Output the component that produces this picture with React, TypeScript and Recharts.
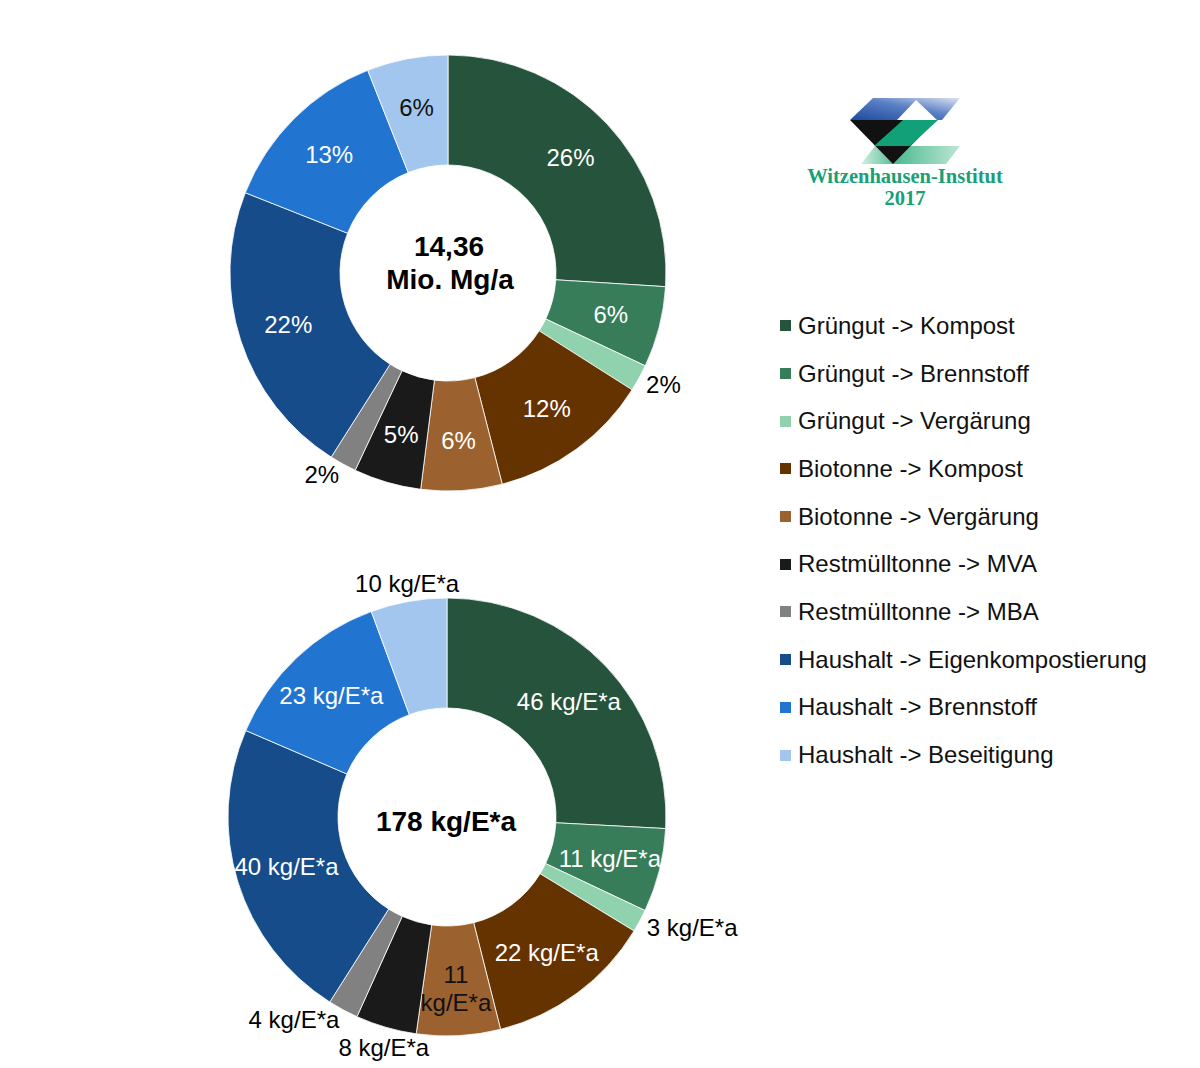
import React from "react";
import { PieChart, Pie, Cell } from "recharts";

const CATEGORIES = [
  "Grüngut -> Kompost",
  "Grüngut -> Brennstoff",
  "Grüngut -> Vergärung",
  "Biotonne -> Kompost",
  "Biotonne -> Vergärung",
  "Restmülltonne -> MVA",
  "Restmülltonne -> MBA",
  "Haushalt -> Eigenkompostierung",
  "Haushalt -> Brennstoff",
  "Haushalt -> Beseitigung",
];

// share of 14,36 Mio. Mg/a in percent
const SHARE_PERCENT = [26, 6, 2, 12, 6, 5, 2, 22, 13, 6];
// per capita, kg per inhabitant and year (sum 178)
const KG_PER_CAPITA = [46, 11, 3, 22, 11, 8, 4, 40, 23, 10];

const COLORS = [
  "#26533c",
  "#377d59",
  "#90d1ae",
  "#653300",
  "#9b6230",
  "#1a1a1a",
  "#818181",
  "#174c8b",
  "#2274d1",
  "#a3c6ee",
];

const TOP_OUTSIDE = ["Grüngut -> Vergärung", "Restmülltonne -> MBA"];
const BOTTOM_OUTSIDE = [
  "Grüngut -> Vergärung",
  "Restmülltonne -> MVA",
  "Restmülltonne -> MBA",
  "Haushalt -> Beseitigung",
];
const TOP_DARK = ["Haushalt -> Beseitigung"];
const BOTTOM_DARK = ["Biotonne -> Vergärung"];
const BOTTOM_WRAPPED = ["Biotonne -> Vergärung"];

const topData = CATEGORIES.map((name, i) => ({ name, value: SHARE_PERCENT[i] }));
const bottomData = CATEGORIES.map((name, i) => ({ name, value: KG_PER_CAPITA[i] }));

const RADIAN = Math.PI / 180;
const FONT = "'Liberation Sans', Arial, sans-serif";
const NO_MARGIN = { top: 0, right: 0, bottom: 0, left: 0 };

function makeLabel(
  outside: string[],
  dark: string[],
  wrapped: string[],
  unit: (v: number) => string,
  unitLines: (v: number) => string[]
) {
  return (props: any) => {
    const { cx, cy, midAngle, outerRadius, name, value } = props;
    const dx = Math.cos(-midAngle * RADIAN);
    const dy = Math.sin(-midAngle * RADIAN);
    if (outside.includes(name)) {
      const r = outerRadius + 8;
      const x = cx + r * dx;
      let y = cy + r * dy;
      let anchor: "start" | "end" | "middle" = dx > 0 ? "start" : "end";
      if (Math.abs(dx) < 0.4) {
        anchor = "middle";
        y += dy > 0 ? 12 : -10;
      } else {
        y += 3;
      }
      return (
        <text
          x={x}
          y={y}
          textAnchor={anchor}
          dominantBaseline="central"
          fill="#000"
          fontSize={24}
          fontFamily={FONT}
        >
          {unit(value)}
        </text>
      );
    }
    const r = 168;
    const x = cx + r * dx;
    const y = cy + r * dy;
    const fill = dark.includes(name) ? "#111" : "#fff";
    if (wrapped.includes(name)) {
      const lines = unitLines(value);
      return (
        <text
          x={x}
          y={y}
          textAnchor="middle"
          fill={fill}
          fontSize={24}
          fontFamily={FONT}
        >
          <tspan x={x} dy={-2}>{lines[0]}</tspan>
          <tspan x={x} dy={28}>{lines[1]}</tspan>
        </text>
      );
    }
    return (
      <text
        x={x}
        y={y}
        textAnchor="middle"
        dominantBaseline="central"
        fill={fill}
        fontSize={24}
        fontFamily={FONT}
      >
        {unit(value)}
      </text>
    );
  };
}

const topLabel = makeLabel(
  TOP_OUTSIDE,
  TOP_DARK,
  [],
  (v) => `${v}%`,
  (v) => [`${v}%`, ""]
);
const bottomLabel = makeLabel(
  BOTTOM_OUTSIDE,
  BOTTOM_DARK,
  BOTTOM_WRAPPED,
  (v) => `${v} kg/E*a`,
  (v) => [`${v}`, "kg/E*a"]
);

function Logo() {
  return (
    <svg
      width={260}
      height={130}
      style={{ position: "absolute", left: 775, top: 90 }}
      viewBox="775 90 260 130"
    >
      <defs>
        <linearGradient id="blueBand" x1="0" y1="1" x2="1" y2="0">
          <stop offset="0%" stopColor="#1d4a9c" />
          <stop offset="55%" stopColor="#5a7fc4" />
          <stop offset="100%" stopColor="#dbe3f3" />
        </linearGradient>
        <linearGradient id="greenBand" x1="0" y1="0" x2="1" y2="0">
          <stop offset="0%" stopColor="#d6efe4" />
          <stop offset="35%" stopColor="#4dbb91" />
          <stop offset="100%" stopColor="#bfe6d4" />
        </linearGradient>
      </defs>
      <polygon points="873,98 960,98 942,120 850,120" fill="url(#blueBand)" />
      <polygon points="916,100 897,120 937,120" fill="#fff" />
      <polygon points="875,146 960,146 946,164 861,164" fill="url(#greenBand)" />
      <polygon points="850,120 936,120 893,164" fill="#111" />
      <polygon points="903,120 938,120 910,146 874,146" fill="#12a078" />
      <text
        x={905}
        y={183}
        textAnchor="middle"
        fill="#18a077"
        fontSize={20.5}
        fontWeight="bold"
        fontFamily="'Liberation Serif', 'Times New Roman', serif"
      >
        Witzenhausen-Institut
      </text>
      <text
        x={905}
        y={205}
        textAnchor="middle"
        fill="#18a077"
        fontSize={20.5}
        fontWeight="bold"
        fontFamily="'Liberation Serif', 'Times New Roman', serif"
      >
        2017
      </text>
    </svg>
  );
}

function Legend() {
  return (
    <div style={{ position: "absolute", left: 780, top: 302, fontFamily: FONT }}>
      {CATEGORIES.map((c, i) => (
        <div
          key={c}
          style={{
            display: "flex",
            alignItems: "center",
            height: 47.7,
            fontSize: 24,
            color: "#111",
            whiteSpace: "nowrap",
          }}
        >
          <span
            style={{
              display: "inline-block",
              width: 11,
              height: 11,
              background: COLORS[i],
              marginRight: 7,
            }}
          />
          {c}
        </div>
      ))}
    </div>
  );
}

export default function App() {
  return (
    <div
      style={{
        position: "absolute",
        left: 0,
        top: 0,
        width: 1200,
        height: 1068,
        background: "#fff",
        overflow: "hidden",
        fontFamily: FONT,
      }}
    >
      <div style={{ position: "absolute", left: 0, top: 0 }}>
        <PieChart width={760} height={534} margin={NO_MARGIN}>
          <Pie
            data={topData}
            dataKey="value"
            nameKey="name"
            cx={448}
            cy={273}
            innerRadius={108}
            outerRadius={218}
            startAngle={90}
            endAngle={-270}
            stroke="#ffffff"
            strokeWidth={0.8}
            label={topLabel}
            labelLine={false}
            isAnimationActive={false}
          >
            {topData.map((d, i) => (
              <Cell key={d.name} fill={COLORS[i]} />
            ))}
          </Pie>
          <text
            x={449}
            y={246}
            textAnchor="middle"
            dominantBaseline="central"
            fontSize={28}
            fontWeight="bold"
            fontFamily={FONT}
            fill="#000"
          >
            14,36
          </text>
          <text
            x={450}
            y={279}
            textAnchor="middle"
            dominantBaseline="central"
            fontSize={28}
            fontWeight="bold"
            fontFamily={FONT}
            fill="#000"
          >
            Mio. Mg/a
          </text>
        </PieChart>
      </div>
      <div style={{ position: "absolute", left: 0, top: 534 }}>
        <PieChart width={760} height={534} margin={NO_MARGIN}>
          <Pie
            data={bottomData}
            dataKey="value"
            nameKey="name"
            cx={447}
            cy={283}
            innerRadius={109}
            outerRadius={219}
            startAngle={90}
            endAngle={-270}
            stroke="#ffffff"
            strokeWidth={0.8}
            label={bottomLabel}
            labelLine={false}
            isAnimationActive={false}
          >
            {bottomData.map((d, i) => (
              <Cell key={d.name} fill={COLORS[i]} />
            ))}
          </Pie>
          <text
            x={446}
            y={287}
            textAnchor="middle"
            dominantBaseline="central"
            fontSize={28}
            fontWeight="bold"
            fontFamily={FONT}
            fill="#000"
          >
            178 kg/E*a
          </text>
        </PieChart>
      </div>
      <Logo />
      <Legend />
    </div>
  );
}
